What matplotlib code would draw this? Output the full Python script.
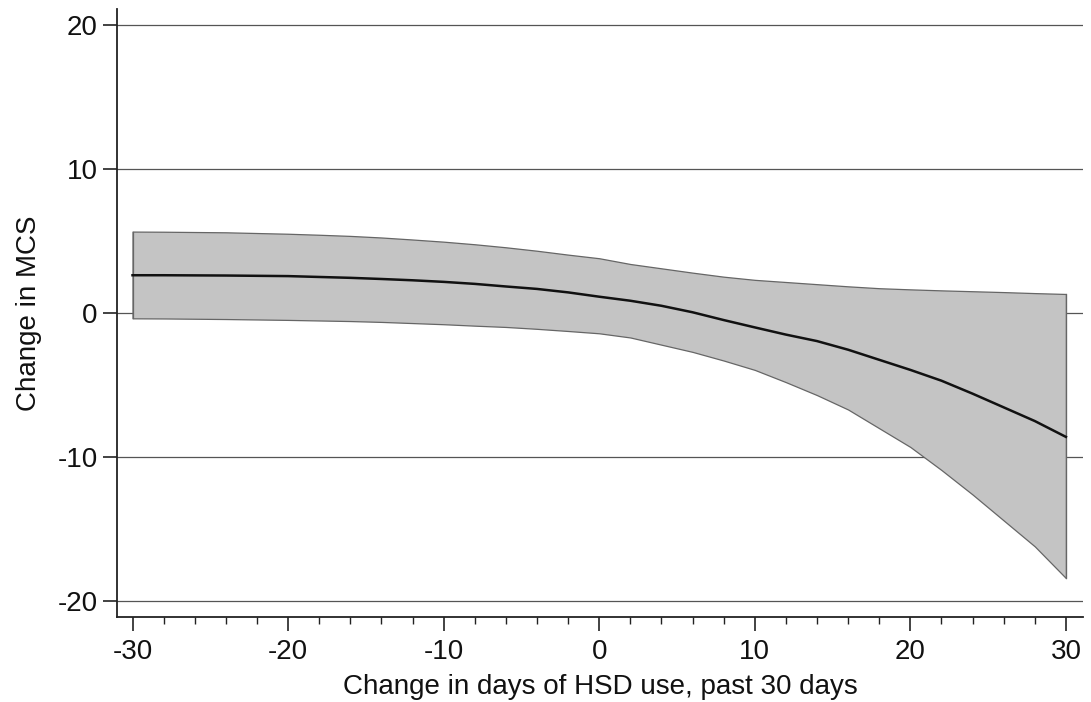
import matplotlib
matplotlib.use('Agg')
import matplotlib.pyplot as plt
from matplotlib.ticker import MultipleLocator
import numpy as np

"------------------DATA (read off the picture)"
days = [-30, -28, -26, -24, -22, -20, -18, -16, -14, -12, -10, -8, -6, -4, -2, 0,
        2, 4, 6, 8, 10, 12, 14, 16, 18, 20, 22, 24, 26, 28, 30]
mcs_fit = [2.62, 2.62, 2.61, 2.60, 2.58, 2.56, 2.50, 2.44, 2.36, 2.27, 2.16, 2.02, 1.84, 1.67, 1.43, 1.13,
           0.85, 0.50, 0.05, -0.49, -1.00, -1.50, -1.95, -2.55, -3.25, -3.95, -4.70, -5.60, -6.55, -7.50, -8.60]
ci_upper = [5.65, 5.64, 5.62, 5.60, 5.55, 5.50, 5.43, 5.35, 5.24, 5.10, 4.95, 4.77, 4.56, 4.32, 4.05, 3.80,
            3.40, 3.10, 2.80, 2.52, 2.30, 2.15, 2.00, 1.85, 1.72, 1.64, 1.57, 1.51, 1.45, 1.38, 1.32]
ci_lower = [-0.37, -0.38, -0.40, -0.42, -0.45, -0.48, -0.52, -0.56, -0.62, -0.70, -0.78, -0.88, -0.97, -1.10, -1.25, -1.41,
            -1.70, -2.20, -2.70, -3.30, -3.95, -4.80, -5.70, -6.70, -8.00, -9.30, -10.90, -12.60, -14.40, -16.20, -18.40]
yticks = [-20, -10, 0, 10, 20]
xticks = [-30, -20, -10, 0, 10, 20, 30]
"----------------------------"

plt.rcParams['font.family'] = ['Liberation Sans', 'DejaVu Sans']
plt.rcParams['axes.unicode_minus'] = False

fig = plt.figure(figsize=(10.91, 7.02), dpi=100)
ax = fig.add_axes([0.1072, 0.1211, 0.8855, 0.8661])

# horizontal grid under the band
for yv in yticks:
    ax.axhline(yv, color='#555555', lw=0.9, zorder=0)

ax.fill_between(days, ci_lower, ci_upper, facecolor='#c4c4c4', edgecolor='#666666', lw=0.9, zorder=1)
ax.plot([days[0], days[0]], [ci_lower[0], ci_upper[0]], color='#666666', lw=0.9, zorder=2)
ax.plot([days[-1], days[-1]], [ci_lower[-1], ci_upper[-1]], color='#666666', lw=0.9, zorder=2)
ax.plot(days, mcs_fit, color='#111111', lw=1.8, zorder=3)

ax.set_xlim(-31, 31.1)
ax.set_ylim(-21.1, 21.1)
ax.set_xticks(xticks)
ax.set_yticks(yticks)
ax.xaxis.set_minor_locator(MultipleLocator(2))

for s in ['top', 'right']:
    ax.spines[s].set_visible(False)
for s in ['left', 'bottom']:
    ax.spines[s].set_linewidth(1.3)
    ax.spines[s].set_color('#222222')

ax.tick_params(axis='both', which='major', length=10, width=1.2, labelsize=20, colors='#222222', labelcolor='#111111')
ax.tick_params(axis='x', which='minor', length=5, width=1.0, colors='#222222')
ax.tick_params(axis='y', pad=4)
ax.tick_params(axis='x', pad=6)

ax.set_xlabel('Change in days of HSD use, past 30 days', fontsize=20, color='#111111', labelpad=6)
ax.set_ylabel('Change in MCS', fontsize=20, color='#111111', labelpad=11)

fig.savefig('out.png', dpi=100)
